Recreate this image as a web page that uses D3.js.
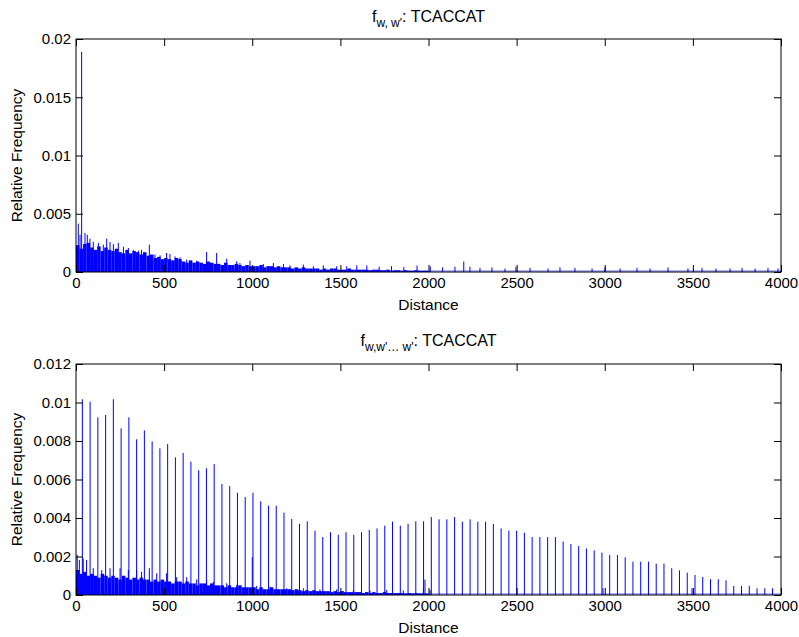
<!DOCTYPE html>
<html lang="en">
<head>
<meta charset="UTF-8">
<title>TCACCAT distance frequency</title>
<style>
  body { margin: 0; background: #fff; }
  svg { display: block; font-family: "Liberation Sans", Arial, sans-serif; }
  .tick text { font-size: 15px; fill: #000; }
  .tick line { stroke: #000; }
</style>
</head>
<body>
<svg width="799" height="637" id="svg"></svg>
<script src="https://d3js.org/d3.v7.min.js"></script>
<script>
// all frequencies below are in units of 1e-3
const xTickValues = [0, 500, 1000, 1500, 2000, 2500, 3000, 3500, 4000]
const topYTicks = [0, 0.005, 0.01, 0.015, 0.02]
const botYTicks = [0, 0.002, 0.004, 0.006, 0.008, 0.01, 0.012]
const noiseBin = 20 // distance units per noise bin

// top panel: f_{w,w'}
const topNoise = [
  2.3, 2.0, 2.4, 2.5, 2.1, 1.9, 2.2, 1.8, 2.1, 1.9,
  1.8, 2.0, 1.7, 1.6, 1.9, 1.6, 1.8, 1.7, 1.5, 1.7,
  1.4, 1.5, 1.2, 1.3, 1.1, 1.2, 1.1, 1.0, 1.2, 1.1,
  0.9, 0.8, 1.0, 0.8, 0.9, 0.8, 0.7, 0.9, 0.8, 0.7,
  0.7, 0.6, 0.8, 0.6, 0.6, 0.7, 0.6, 0.5, 0.6, 0.5,
  0.5, 0.5, 0.6, 0.4, 0.5, 0.5, 0.4, 0.5, 0.4, 0.4,
  0.4, 0.3, 0.4, 0.3, 0.4, 0.3, 0.3, 0.3, 0.3, 0.2,
  0.3, 0.2, 0.3, 0.3, 0.2, 0.2, 0.2, 0.3, 0.2, 0.2,
  0.2, 0.2, 0.2, 0.15, 0.2, 0.2, 0.15, 0.15, 0.2, 0.1,
  0.15, 0.15, 0.1, 0.15, 0.1, 0.1, 0.15, 0.1, 0.1, 0.1
]
const topPeakDist = [13, 23, 32, 51, 64, 79, 98, 127, 155, 174, 193, 212, 240, 269, 297, 325, 354, 372,
  416, 448, 477, 514, 533, 562, 590, 628, 685, 741, 798, 855, 912, 930, 987, 1063, 1120, 1177, 1214,
  1290, 1347, 1403, 1479, 1536, 1593, 1650, 1720, 1790, 1860, 1935, 2010, 2080, 2150, 2200,
  2235, 2292, 2360, 2434, 2496, 2576, 2678, 2746, 2831, 2928, 3001, 3087, 3183, 3257, 3359,
  3472, 3552, 3631, 3711, 3779, 3853, 3926, 3983]
const topPeakVal = [4.15, 3.2, 18.9, 3.35, 3.2, 2.86, 2.6, 2.5, 2.35, 2.86, 2.57, 2.4, 2.5, 2.17, 2.06, 1.9, 1.83, 1.9,
  2.35, 1.5, 1.43, 1.63, 1.54, 1.34, 1.26, 1.06, 0.97, 1.72, 1.63, 1.14, 0.92, 0.77, 0.97, 0.69, 0.77, 0.69, 0.57,
  0.63, 0.49, 0.57, 0.49, 0.49, 0.57, 0.57, 0.45, 0.5, 0.42, 0.55, 0.48, 0.4, 0.45, 0.9,
  0.45, 0.35, 0.4, 0.3, 0.45, 0.35, 0.3, 0.4, 0.35, 0.3, 0.4, 0.3, 0.35, 0.3, 0.4,
  0.3, 0.35, 0.3, 0.3, 0.35, 0.3, 0.35, 0.3]

// bottom panel: f_{w,w'... w'}
const botNoise = [
  1.3, 1.1, 1.2, 1.0, 1.1, 1.0, 0.9, 1.1, 1.0, 0.9,
  1.0, 0.9, 0.8, 1.0, 0.9, 0.8, 0.9, 0.8, 0.9, 0.8,
  0.8, 0.7, 0.8, 0.7, 0.8, 0.7, 0.7, 0.6, 0.7, 0.7,
  0.6, 0.7, 0.6, 0.6, 0.5, 0.6, 0.6, 0.5, 0.6, 0.5,
  0.5, 0.5, 0.4, 0.5, 0.4, 0.4, 0.5, 0.4, 0.4, 0.4,
  0.4, 0.3, 0.4, 0.3, 0.3, 0.4, 0.3, 0.3, 0.3, 0.3,
  0.3, 0.25, 0.3, 0.25, 0.2, 0.25, 0.2, 0.25, 0.2, 0.2,
  0.2, 0.2, 0.15, 0.2, 0.15, 0.2, 0.15, 0.15, 0.15, 0.15,
  0.15, 0.1, 0.15, 0.1, 0.15, 0.1, 0.1, 0.15, 0.1, 0.1,
  0.1, 0.1, 0.1, 0.08, 0.1, 0.08, 0.1, 0.08, 0.08, 0.08
]
const botPeakDist = [7, 19, 41, 60, 98, 146, 193, 250, 297, 344, 372, 416, 458, 514, 571, 628, 685, 741, 779,
  855, 912, 1000, 1025, 1101, 1196, 1290, 1384, 1479, 1574, 1668, 1763, 1857, 1971, 1980, 2009, 2990, 3495]
const botPeakVal = [2.08, 1.82, 1.9, 1.82, 1.39, 1.3, 1.39, 1.39, 1.3, 1.3, 1.21, 1.39, 1.13, 1.13, 0.92, 0.92, 0.81, 0.78, 0.69,
  0.61, 0.52, 1.96, 0.47, 0.43, 0.35, 0.35, 0.29, 0.29, 0.26, 0.23, 0.26, 0.23, 0.35, 0.8, 0.26, 0.35, 0.35]

// periodic spikes (every repeat of the word)
const spikeDist = [36, 80, 124, 168, 212, 256, 300, 344, 388, 432, 476, 520, 564, 608, 652, 696, 740, 784,
  828, 872, 916, 960, 1004, 1048, 1092, 1136, 1180, 1224, 1268, 1312, 1356, 1400, 1444, 1488, 1532, 1576,
  1620, 1664, 1708, 1752, 1796, 1840, 1884, 1928, 1972, 2016, 2060, 2104, 2148, 2192, 2236, 2280, 2324,
  2368, 2412, 2456, 2500, 2544, 2588, 2632, 2676, 2720, 2764, 2808, 2852, 2896, 2940, 2984, 3028, 3072,
  3116, 3160, 3204, 3248, 3292, 3336, 3380, 3424, 3468, 3512, 3556, 3600, 3644, 3688, 3732, 3776, 3820,
  3864, 3908, 3952]
const spikeVal = [
  10.17, 10.04, 9.23, 9.35, 10.17, 8.66, 9.23, 8.09, 8.55, 7.98,
  7.62, 7.84, 7.15, 7.38, 6.93, 6.48, 6.58, 6.80, 5.77, 5.66,
  5.31, 5.09, 5.31, 4.87, 4.64, 4.64, 4.28, 3.95, 3.70, 3.83,
  3.34, 3.01, 3.26, 3.13, 3.26, 3.13, 3.26, 3.38, 3.46, 3.60,
  3.81, 3.60, 3.70, 3.83, 3.83, 4.05, 3.93, 3.93, 4.05, 3.81,
  3.93, 3.81, 3.81, 3.69, 3.46, 3.34, 3.34, 3.24, 3.01, 3.01,
  3.01, 3.01, 2.77, 2.65, 2.55, 2.42, 2.32, 2.20, 2.08, 2.08,
  1.96, 1.73, 1.73, 1.73, 1.63, 1.63, 1.39, 1.28, 1.16, 1.04,
  0.94, 0.82, 0.82, 0.76, 0.47, 0.47, 0.47, 0.35, 0.35, 0.35
]

const svg = d3.select("svg#svg")
const blue = "#0000ff"
const left = 76, right = 781

const xScale = d3.scaleLinear().domain([0, 4000]).range([left, right])

function drawPanel(top, bottom, yMax, yTicks, noise, peakDist, peakVal, spikes) {
  const yScale = d3.scaleLinear().domain([0, yMax]).range([bottom, top])
  const g = svg.append("g")

  // dense noise floor
  g.append("g").selectAll("rect").data(noise).join("rect")
    .attr("x", (d, i) => xScale(i * noiseBin))
    .attr("width", xScale(noiseBin) - xScale(0))
    .attr("y", d => yScale(d * 1e-3))
    .attr("height", d => bottom - yScale(d * 1e-3))
    .attr("fill", blue)

  // individual tall bars
  const lines = peakDist.map((d, i) => ({ d: d, v: peakVal[i] }))
  if (spikes) spikes.forEach(s => lines.push(s))
  g.append("g").selectAll("line").data(lines).join("line")
    .attr("x1", d => xScale(d.d)).attr("x2", d => xScale(d.d))
    .attr("y1", bottom).attr("y2", d => yScale(d.v * 1e-3))
    .attr("stroke", blue).attr("stroke-width", 1)

  // thin baseline of tiny counts
  g.append("line").attr("x1", xScale(0)).attr("x2", xScale(4000))
    .attr("y1", bottom - 1).attr("y2", bottom - 1)
    .attr("stroke", blue).attr("stroke-width", 1).attr("opacity", 0.6)

  // axes, ticks pointing inward like matlab
  g.append("g").attr("transform", `translate(0,${bottom})`)
    .call(d3.axisBottom(xScale).tickValues(xTickValues).tickSize(-7).tickSizeOuter(0).tickPadding(5).tickFormat(d3.format("")))
  g.append("g").attr("transform", `translate(0,${top})`)
    .call(d3.axisTop(xScale).tickValues(xTickValues).tickSize(-7).tickSizeOuter(0).tickFormat(""))
  g.append("g").attr("transform", `translate(${left},0)`)
    .call(d3.axisLeft(yScale).tickValues(yTicks).tickSize(-7).tickSizeOuter(0).tickPadding(5).tickFormat(d => d3.format("")(+d.toFixed(4))))
  g.append("g").attr("transform", `translate(${right},0)`)
    .call(d3.axisRight(yScale).tickValues(yTicks).tickSize(-7).tickSizeOuter(0).tickFormat(""))
  g.selectAll(".domain").remove()
  g.selectAll(".tick text").attr("font-family", null).attr("font-size", null)

  g.append("rect").attr("x", left).attr("y", top)
    .attr("width", right - left).attr("height", bottom - top)
    .attr("fill", "none").attr("stroke", "#000").attr("stroke-width", 1)

  g.append("text").attr("x", (left + right) / 2).attr("y", bottom + 38)
    .attr("text-anchor", "middle").attr("font-size", 15.5).text("Distance")
  g.append("text").attr("transform", `translate(22,${(top + bottom) / 2}) rotate(-90)`)
    .attr("text-anchor", "middle").attr("font-size", 15.5).text("Relative Frequency")
  return g
}

const g1 = drawPanel(39, 272, 0.02, topYTicks, topNoise, topPeakDist, topPeakVal, null)
const t1 = g1.append("text").attr("x", (left + right) / 2).attr("y", 22)
  .attr("text-anchor", "middle").attr("font-size", 16)
t1.append("tspan").text("f")
t1.append("tspan").attr("dy", 5).attr("font-size", 12).text("w, w'")
t1.append("tspan").attr("dy", -5).text(": TCACCAT")

const spikeData = spikeDist.map((d, i) => ({ d: d, v: spikeVal[i] }))
const g2 = drawPanel(364, 595, 0.012, botYTicks, botNoise, botPeakDist, botPeakVal, spikeData)
const t2 = g2.append("text").attr("x", (left + right) / 2).attr("y", 346)
  .attr("text-anchor", "middle").attr("font-size", 16)
t2.append("tspan").text("f")
t2.append("tspan").attr("dy", 5).attr("font-size", 12).text("w,w'\u2026 w'")
t2.append("tspan").attr("dy", -5).text(": TCACCAT")
</script>
</body>
</html>
